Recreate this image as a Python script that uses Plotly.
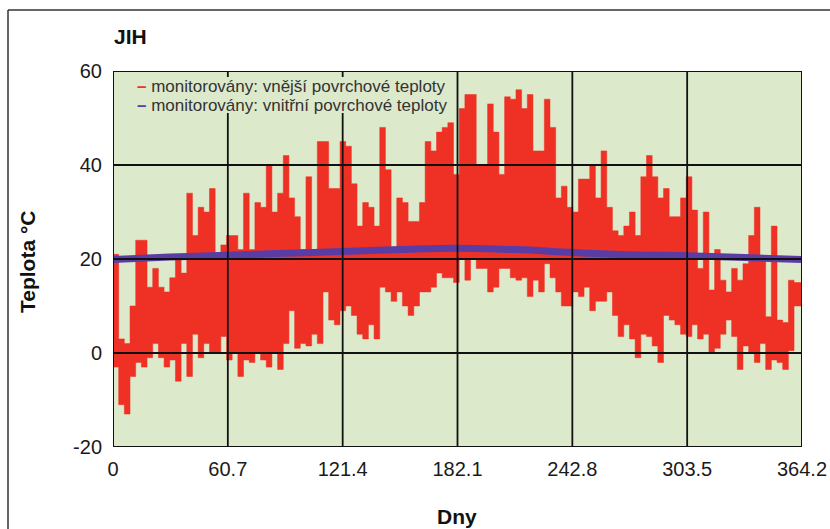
import plotly.graph_objects as go

# ---------------- data ----------------
bin_days = 3  # width of each monitoring bin (days)
x_end = 364.2

# outer surface temperature envelope (daily max / min), one value per 3-day bin starting at day 0
outer_max = [21, 3, 2, 10, 24, 24, 14, 18, 14, 13, 16, 20, 17, 34, 25, 31, 30, 35, 20, 23, 25, 25, 22, 34, 22, 32, 31, 40, 30, 34, 42,
             33, 29, 22, 37.5, 22, 45, 45, 35, 35, 45, 44, 36, 27, 32, 31, 27, 48, 39, 22, 33, 32, 28, 28, 32, 45, 43, 47, 48, 49, 38, 52,
             55, 55, 40, 40, 53, 47, 38, 54.5, 54, 56, 52, 55, 43, 43, 54, 48, 33, 35.5, 31, 30, 37, 37, 40, 33, 43, 31, 26, 25, 27, 30, 25,
             37.5, 42, 37.5, 33, 35, 29, 29, 33, 37.5, 30.4, 18, 30, 13.4, 22, 15.5, 13, 18, 15.5, 19, 25, 31, 20, 7.7, 27, 7, 6.5, 15.5, 15, 15]
outer_min = [-3, -11, -13, -5, -2, -3, -1, 2, -1, -3, -1.5, -6, 2, -5, 4, -1, 2, 0, 0, 3.5, -1.5, 0, -5, -1.5, -2, 0, -1.5, -3, 0, -3.5, 2,
             9, 1, 2, 1.5, 4, 2, 13, 7, 6, 9, 10, 8, 4, 3, 6, 3, 14, 13, 11, 13, 10, 8, 10, 13, 13, 14, 17, 16, 16, 15, 20,
             15.5, 20, 18, 18, 13, 14, 18, 18, 16, 15.5, 16, 12, 15.5, 13, 19, 16, 13, 10, 10, 13, 12, 14, 9, 11, 11, 13, 8, 3.5, 6, 3, -1,
             4, 3.5, 1.5, -2, 8, 7, 6, 4, 3.5, 6, 3, 4, 0, 1, 4, 7, 3.5, -3.5, 1.5, 0, -2, 2, -3.5, -1.5, -2, -3.5, 0.5, 10, 10]

# inner surface temperature
inner_days = [0, 30, 60, 91, 121, 152, 182, 213, 243, 274, 304, 334, 364.2]
inner_temp = [19.9, 20.4, 20.8, 21.2, 21.6, 22.0, 22.3, 22.0, 21.4, 20.9, 20.7, 20.3, 19.9]

x_ticks = [0, 60.7, 121.4, 182.1, 242.8, 303.5, 364.2]
x_tick_labels = ["0", "60.7", "121.4", "182.1", "242.8", "303.5", "364.2"]
y_ticks = [-20, 0, 20, 40, 60]
y_tick_labels = ["-20", "0", "20", "40", "60"]

name_outer = "monitorovány: vnější povrchové teploty"
name_inner = "monitorovány: vnitřní povrchové teploty"

# ---------------- build step envelope polygon ----------------
n = len(outer_max)
starts = [i * bin_days for i in range(n)]
ends = [min((i + 1) * bin_days, x_end) for i in range(n)]
ends[-1] = x_end
px, py = [], []
for s, e, v in zip(starts, ends, outer_max):
    px += [s, e]
    py += [v, v]
for s, e, v in reversed(list(zip(starts, ends, outer_min))):
    px += [e, s]
    py += [v, v]

RED = "#ee3124"
BLUE = "#5a3ca5"
BG = "#dde9cb"
FONT = "Liberation Sans, Arial, sans-serif"

fig = go.Figure()
fig.add_trace(go.Scatter(x=px, y=py, mode="lines", fill="toself", fillcolor=RED,
                         line=dict(color=RED, width=0.5), name=name_outer, showlegend=False,
                         hoverinfo="skip"))
fig.add_trace(go.Scatter(x=inner_days, y=inner_temp, mode="lines", line=dict(color=BLUE, width=7, shape="spline"),
                         name=name_inner, showlegend=False))

W, H = 830, 529
L, R, T, B = 113, 28, 71, 82
pw, ph = W - L - R, H - T - B


def xp(p):
    return (p - L) / pw


def yp(p):
    return (H - B - p) / ph


shapes = []
for xv in x_ticks[1:-1]:
    shapes.append(dict(type="line", xref="x", yref="y", x0=xv, x1=xv, y0=y_ticks[0], y1=y_ticks[-1],
                       line=dict(color="#111", width=1.8), layer="above"))
for yv in y_ticks[1:-1]:
    shapes.append(dict(type="line", xref="x", yref="y", x0=0, x1=x_end, y0=yv, y1=yv,
                       line=dict(color="#111", width=1.8), layer="above"))
# legend background box (hides grid lines behind the legend)
shapes.append(dict(type="rect", xref="paper", yref="paper", x0=xp(133), x1=xp(452), y0=yp(113), y1=yp(77),
                   fillcolor=BG, line=dict(width=0), layer="above"))
shapes.append(dict(type="rect", xref="x", yref="y", x0=0, x1=x_end, y0=y_ticks[0], y1=y_ticks[-1],
                   line=dict(color="#111", width=2), layer="above"))
# outer frame
shapes.append(dict(type="line", xref="paper", yref="paper", x0=xp(8), x1=xp(840), y0=yp(10), y1=yp(10),
                   line=dict(color="#333", width=1.5)))
shapes.append(dict(type="line", xref="paper", yref="paper", x0=xp(8), x1=xp(8), y0=yp(10), y1=yp(540),
                   line=dict(color="#333", width=1.5)))

annotations = [
    dict(text="<b>JIH</b>", x=xp(112), y=yp(36), xref="paper", yref="paper", xanchor="left", yanchor="middle",
         showarrow=False, font=dict(family=FONT, size=21, color="#111")),
    dict(text="<b>Dny</b>", x=xp(457), y=yp(516), xref="paper", yref="paper", xanchor="center", yanchor="middle",
         showarrow=False, font=dict(family=FONT, size=21, color="#111")),
    dict(text="<b>Teplota °C</b>", x=xp(27), y=yp(262), xref="paper", yref="paper", xanchor="center",
         yanchor="middle", textangle=-90, showarrow=False, font=dict(family=FONT, size=21, color="#111")),
    dict(text=f'<span style="color:{RED}"><b>–</b></span> {name_outer}', x=xp(135), y=yp(87), xref="paper",
         yref="paper", xanchor="left", yanchor="middle", showarrow=False,
         font=dict(family=FONT, size=17, color="#333")),
    dict(text=f'<span style="color:{BLUE}"><b>–</b></span> {name_inner}', x=xp(135), y=yp(105), xref="paper",
         yref="paper", xanchor="left", yanchor="middle", showarrow=False,
         font=dict(family=FONT, size=17, color="#333")),
]

fig.update_layout(
    width=W, height=H, margin=dict(l=L, r=R, t=T, b=B, pad=0, autoexpand=False),
    paper_bgcolor="white", plot_bgcolor=BG,
    showlegend=False,
    shapes=shapes, annotations=annotations,
    font=dict(family=FONT, size=20, color="#1a1a1a"),
    xaxis=dict(range=[0, x_end], tickvals=x_ticks, ticktext=x_tick_labels, showgrid=False, zeroline=False,
               ticks="", ticklabelstandoff=8, tickfont=dict(size=20), automargin=False),
    yaxis=dict(range=[y_ticks[0], y_ticks[-1]], tickvals=y_ticks, ticktext=y_tick_labels, showgrid=False,
               zeroline=False, ticks="", ticklabelstandoff=10, tickfont=dict(size=20), automargin=False),
)

fig.write_html("out.html")
